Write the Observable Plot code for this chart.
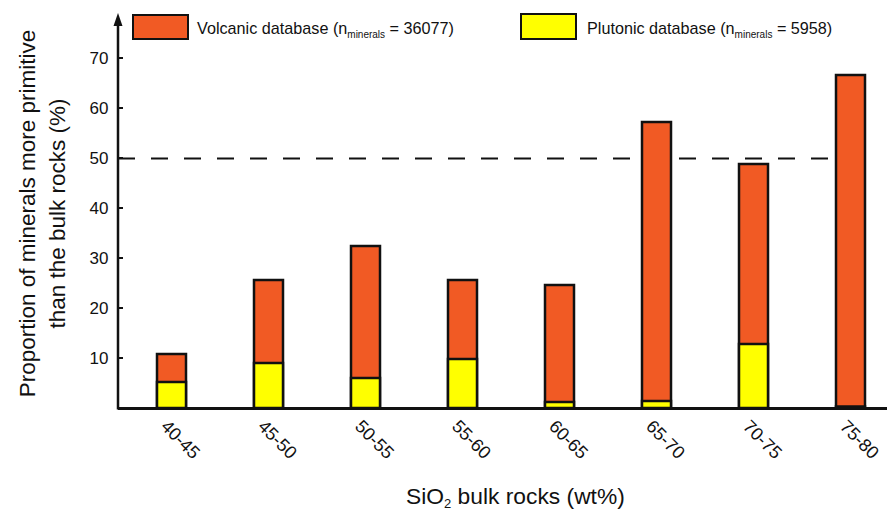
<!DOCTYPE html>
<html><head><meta charset="utf-8">
<script src="https://cdn.jsdelivr.net/npm/d3@7"></script>
<script src="https://cdn.jsdelivr.net/npm/@observablehq/plot@0.6"></script>
<style>
body{margin:0;background:#fff;font-family:"Liberation Sans",Arial,sans-serif;color:#111;}
#wrap{position:relative;width:887px;height:511px;overflow:hidden;}
.sw{position:absolute;box-sizing:border-box;border:2px solid #111;}
.lt{position:absolute;font-size:16.2px;line-height:16px;white-space:nowrap;}
.lt sub{font-size:10px;line-height:0;vertical-align:-4px;}
.xt{position:absolute;font-size:22.8px;line-height:22px;white-space:nowrap;}
.xt sub{font-size:13px;line-height:0;vertical-align:-4px;}
</style></head><body>
<div id="wrap"></div>
<script>
const categories = ["40-45","45-50","50-55","55-60","60-65","65-70","70-75","75-80"];
const volcanic = [10.8, 25.6, 32.4, 25.6, 24.6, 57.2, 48.8, 66.6];
const plutonic = [5.2, 9.0, 6.0, 9.8, 1.2, 1.4, 12.8, 0.3];
const yTicks = [10, 20, 30, 40, 50, 60, 70];
const threshold = 50;
const seriesNames = ["Volcanic database", "Plutonic database"];
const seriesCounts = [36077, 5958];
const seriesColors = ["#F15A24", "#FFFF00"];
const yTitle = "Proportion of minerals more primitive\nthan the bulk rocks (%)";

const data = categories.map((c, i) => ({cat: c, volcanic: volcanic[i], plutonic: plutonic[i]}));

const chart = Plot.plot({
  width: 887, height: 511,
  marginLeft: 118, marginRight: 0, marginTop: 15, marginBottom: 103,
  style: {fontFamily: '"Liberation Sans", Arial, sans-serif', background: "white", color: "#111", overflow: "visible"},
  x: {type: "band", domain: categories, range: [120.2, 901], paddingInner: 0.7, paddingOuter: 0.35, align: 0.5, label: null},
  y: {domain: [0, 78.6], label: null},
  marks: [
    Plot.ruleY([threshold], {stroke: "#111", strokeWidth: 2, strokeDasharray: "17,16", insetRight: 25}),
    Plot.barY(data, {x: "cat", y: "volcanic", fill: seriesColors[0], stroke: "#111", strokeWidth: 2.5}),
    Plot.barY(data, {x: "cat", y: "plutonic", fill: seriesColors[1], stroke: "#111", strokeWidth: 2.5}),
    Plot.ruleY([0], {stroke: "#111", strokeWidth: 3}),
    Plot.axisY({ticks: yTicks, tickSize: 0, tickPadding: 10, fontSize: 17, label: null}),
    Plot.axisX({tickSize: 0, tickRotate: 45, tickPadding: 15, fontSize: 18, dx: -8, label: null}),
    Plot.text([yTitle], {frameAnchor: "left", textAnchor: "middle", rotate: -90, fontSize: 22.5, lineHeight: 30 / 22.5, dx: -78, dy: 1.5, text: d => d, fill: "#111"}),
    (index, scales, values, dims) => {
      const x0 = dims.marginLeft, yb = dims.height - dims.marginBottom;
      const g = d3.create("svg:g").attr("stroke", "#111").attr("fill", "#111");
      g.append("line").attr("x1", x0).attr("x2", x0).attr("y1", yb + 1.5).attr("y2", dims.marginTop + 8).attr("stroke-width", 2.5);
      g.append("path").attr("d", `M${x0 - 4.5},${dims.marginTop + 11}L${x0},${dims.marginTop - 2}L${x0 + 4.5},${dims.marginTop + 11}Z`).attr("stroke", "none");
      for (const t of yTicks) {
        g.append("line").attr("x1", x0).attr("x2", x0 + 5).attr("y1", scales.y(t)).attr("y2", scales.y(t)).attr("stroke-width", 2);
      }
      return g.node();
    }
  ]
});

const wrap = document.getElementById("wrap");
wrap.appendChild(chart);

// Legend overlay
const legendPos = [{sx: 132, sy: 14, sw: 57, sh: 26, tx: 197}, {sx: 520, sy: 13, sw: 57, sh: 27, tx: 587}];
seriesNames.forEach((name, i) => {
  const p = legendPos[i];
  const sw = document.createElement("div");
  sw.className = "sw";
  Object.assign(sw.style, {left: p.sx + "px", top: p.sy + "px", width: p.sw + "px", height: p.sh + "px", background: seriesColors[i]});
  wrap.appendChild(sw);
  const t = document.createElement("div");
  t.className = "lt";
  Object.assign(t.style, {left: p.tx + "px", top: "19.5px"});
  t.innerHTML = `${name} (n<sub>minerals</sub> = ${seriesCounts[i]})`;
  wrap.appendChild(t);
});

// X title overlay
const xt = document.createElement("div");
xt.className = "xt";
Object.assign(xt.style, {left: "406px", top: "485px"});
xt.innerHTML = "SiO<sub>2</sub> bulk rocks (wt%)";
wrap.appendChild(xt);
</script>
</body></html>
